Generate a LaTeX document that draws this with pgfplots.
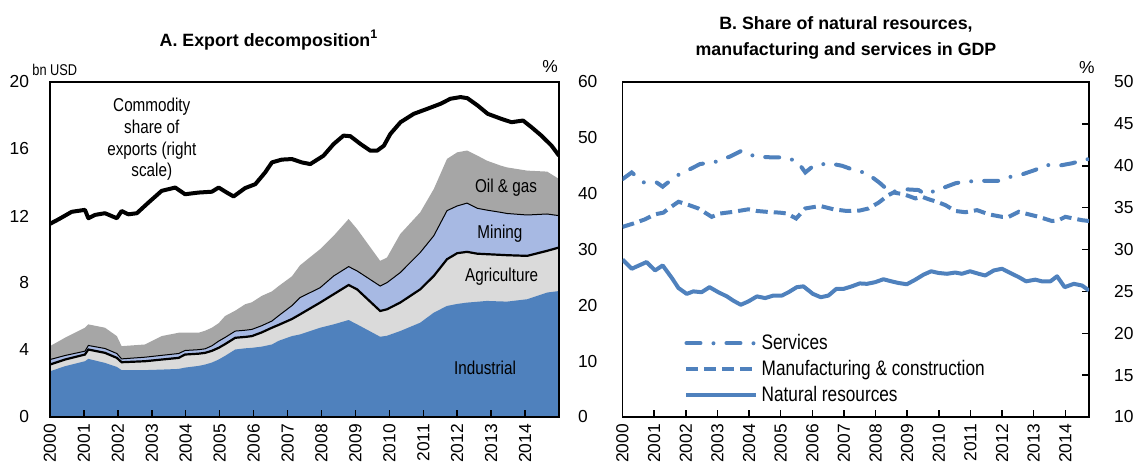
\documentclass[border=0pt]{standalone}
\usepackage{fontspec}
\setmainfont{Liberation Sans}
\newfontfamily\narrow[FakeStretch=0.82]{Liberation Sans}
\usepackage{pgfplots}
\usepackage{pgfplotstable}
\pgfplotsset{compat=1.18}

\definecolor{indblue}{HTML}{4F81BD}
\definecolor{agrgray}{HTML}{DADADA}
\definecolor{minblue}{HTML}{A7B9E3}
\definecolor{oilgray}{HTML}{A6A6A6}

\newcommand\tickfont{\fontsize{8.7}{10}\selectfont}
\newcommand\labfont{\narrow\fontsize{9.3}{10.8}\selectfont}
\newcommand\titlefont{\bfseries\fontsize{8.9}{10.5}\selectfont}

% cumulative tops of the stacked export areas, bn USD
\pgfplotstableread{
x       ind   agr   min   tot
2000.00 2.73  3.13  3.43  4.23
2000.44 3.03  3.43  3.67  4.73
2001.03 3.33  3.73  3.93  5.33
2001.13 3.47  4.03  4.27  5.53
2001.62 3.23  3.83  4.09  5.33
2001.97 2.99  3.53  3.79  4.83
2002.11 2.80  3.27  3.47  4.23
2002.80 2.80  3.33  3.57  4.33
2003.29 2.83  3.43  3.68  4.83
2003.79 2.87  3.53  3.79  5.03
2003.98 2.95  3.73  3.97  5.03
2004.38 3.05  3.78  4.02  5.03
2004.57 3.13  3.83  4.07  5.15
2004.77 3.25  3.95  4.25  5.33
2004.97 3.43  4.13  4.53  5.60
2005.16 3.65  4.35  4.75  6.03
2005.46 4.03  4.73  5.13  6.35
2005.75 4.10  4.78  5.18  6.73
2005.95 4.13  4.83  5.23  6.85
2006.24 4.20  5.05  5.45  7.23
2006.54 4.33  5.33  5.73  7.50
2006.74 4.55  5.50  6.05  7.82
2007.13 4.83  5.85  6.65  8.40
2007.37 4.93  6.13  7.13  9.06
2007.96 5.33  6.83  7.72  10.02
2008.36 5.53  7.33  8.42  10.82
2008.80 5.79  7.88  8.98  11.82
2009.05 5.53  7.62  8.72  11.22
2009.73 4.79  6.33  7.82  9.32
2009.93 4.85  6.43  8.02  9.52
2010.32 5.13  6.83  8.62  10.92
2010.91 5.63  7.62  9.82  12.22
2011.31 6.23  8.42  10.82 13.61
2011.70 6.63  9.42  12.32 15.41
2012.00 6.75  9.78  12.60 15.80
2012.29 6.83  9.86  12.77 15.91
2012.59 6.88  9.75  12.46 15.61
2012.88 6.93  9.72  12.35 15.30
2013.28 6.90  9.68  12.22 15.01
2013.47 6.89  9.66  12.15 14.90
2014.06 7.03  9.62  12.06 14.71
2014.65 7.43  9.92  12.12 14.65
2015.00 7.52  10.12 12.02 14.21
}\exports

% commodity share of exports, %
\pgfplotstableread{
x       y
2000.00 34.6
2000.25 35.4
2000.64 36.75
2001.03 37.1
2001.13 35.6
2001.33 36.2
2001.62 36.5
2001.97 35.6
2002.11 36.9
2002.31 36.3
2002.56 36.5
2002.90 38.4
2003.29 40.5
2003.69 41.1
2003.98 39.9
2004.38 40.2
2004.77 40.35
2004.97 41.1
2005.21 40.2
2005.41 39.5
2005.75 41.0
2006.05 41.7
2006.34 43.8
2006.54 45.6
2006.83 46.1
2007.13 46.2
2007.42 45.6
2007.67 45.3
2008.06 46.8
2008.36 48.9
2008.65 50.4
2008.85 50.3
2009.15 48.9
2009.44 47.7
2009.64 47.7
2009.84 48.6
2010.03 50.7
2010.33 52.8
2010.72 54.3
2011.12 55.2
2011.51 56.1
2011.80 57.0
2012.10 57.3
2012.30 57.1
2012.60 55.8
2012.90 54.3
2013.30 53.4
2013.60 52.8
2013.94 53.1
2014.19 51.9
2014.48 50.4
2014.78 48.6
2015.00 46.8
}\commodity

\pgfplotstableread{
x       y
2000.00 38.4
2000.29 39.2
2000.68 38.0
2001.08 38.0
2001.27 37.5
2001.40 37.9
2001.80 39.0
2002.14 39.6
2002.45 40.2
2002.98 40.5
2003.40 41.1
2003.77 41.8
2004.19 41.1
2004.72 41.0
2005.04 41.0
2005.51 40.6
2005.78 39.2
2006.04 40.0
2006.52 40.3
2006.94 40.0
2007.31 39.5
2007.73 39.1
2008.15 37.9
2008.47 36.8
2008.89 37.2
2009.36 37.1
2009.57 36.6
2010.10 37.3
2010.52 37.9
2010.79 38.1
2011.37 38.2
2011.89 38.2
2012.16 38.6
2012.58 38.9
2013.05 39.5
2013.37 40.1
2013.79 40.0
2014.22 40.3
2014.58 40.7
2014.75 40.8
}\services

\pgfplotstableread{
x       y
2000.00 32.7
2000.34 33.1
2000.71 33.6
2001.03 34.2
2001.29 34.4
2001.50 35.0
2001.77 35.7
2002.03 35.4
2002.40 34.9
2002.61 34.4
2002.82 33.9
2003.09 34.3
2003.51 34.5
2003.98 34.8
2004.25 34.6
2004.56 34.5
2004.98 34.4
2005.20 34.3
2005.49 33.7
2005.78 34.9
2006.25 35.2
2006.67 34.8
2007.09 34.6
2007.50 34.65
2007.78 34.9
2008.10 35.6
2008.41 36.5
2008.57 36.8
2008.89 36.6
2009.26 36.1
2009.47 36.3
2009.68 36.0
2009.94 35.7
2010.21 35.3
2010.52 34.6
2010.84 34.45
2011.21 34.7
2011.58 34.2
2012.00 33.9
2012.21 33.9
2012.53 34.5
2012.84 34.2
2013.16 33.9
2013.58 33.4
2013.79 33.5
2014.00 33.9
2014.27 33.7
2014.53 33.5
2014.75 33.4
}\manuf

\pgfplotstableread{
x       y
2000.00 28.8
2000.29 27.7
2000.76 28.5
2001.03 27.5
2001.27 28.1
2001.56 26.6
2001.77 25.4
2002.03 24.7
2002.24 25.0
2002.50 24.9
2002.75 25.5
2003.03 24.9
2003.30 24.4
2003.50 23.9
2003.74 23.4
2003.98 23.8
2004.25 24.4
2004.51 24.2
2004.77 24.5
2005.04 24.5
2005.25 24.9
2005.51 25.5
2005.72 25.6
2006.02 24.7
2006.27 24.3
2006.51 24.5
2006.76 25.3
2006.99 25.3
2007.25 25.6
2007.50 25.95
2007.73 25.9
2007.99 26.1
2008.25 26.45
2008.50 26.2
2008.73 26.0
2008.99 25.85
2009.26 26.4
2009.52 27.0
2009.76 27.4
2009.99 27.2
2010.26 27.1
2010.52 27.25
2010.73 27.1
2010.99 27.4
2011.26 27.1
2011.47 26.9
2011.74 27.5
2012.00 27.7
2012.26 27.2
2012.53 26.7
2012.76 26.2
2013.05 26.4
2013.26 26.2
2013.53 26.2
2013.74 26.8
2013.98 25.5
2014.27 25.9
2014.53 25.7
2014.75 25.1
}\natres

\pgfplotsset{
  panel/.style={
    scale only axis, height=167.5pt, anchor=south west,
    axis line style={line width=0.75pt},
    tick style={black, line width=0.75pt},
    tick align=inside, major tick length=3.5pt,
    xtick={2000,2001,...,2014}, xtick pos=bottom,
    xticklabel style={rotate=90, anchor=east, font=\tickfont},
    yticklabel style={font=\tickfont},
    /pgf/number format/1000 sep={},
    /pgf/number format/assume math mode=true,
  },
}

\begin{document}
\begin{tikzpicture}
\useasboundingbox (0,0) rectangle (567pt,230.5pt);

% ---------- Panel A ----------
\begin{axis}[panel, at={(25pt,22pt)}, width=254.5pt,
  xmin=2000, xmax=2015, ymin=0, ymax=20,
  ytick={0,4,...,20}, ytick pos=left, ytick style={draw=none},
  yticklabel style={xshift=-7pt}, axis on top]
  \addplot[fill=oilgray, draw=none] table[x=x, y=tot] {\exports} \closedcycle;
  \addplot[fill=minblue, draw=none] table[x=x, y=min] {\exports} \closedcycle;
  \addplot[fill=agrgray, draw=none] table[x=x, y=agr] {\exports} \closedcycle;
  \addplot[fill=indblue, draw=none] table[x=x, y=ind] {\exports} \closedcycle;
  \addplot[black, line width=0.5pt] table[x=x, y=min] {\exports};
  \addplot[black, line width=1.1pt] table[x=x, y=agr] {\exports};
  \node[font=\labfont, align=center] at (axis cs:2003.0,16.57)
    {Commodity\\share of\\exports (right\\scale)};
  \node[font=\labfont] at (axis cs:2013.44,13.67) {Oil \& gas};
  \node[font=\labfont] at (axis cs:2013.26,10.94) {Mining};
  \node[font=\labfont] at (axis cs:2013.31,8.36) {Agriculture};
  \node[font=\labfont] at (axis cs:2012.82,2.93) {Industrial};
\end{axis}
\begin{axis}[scale only axis, at={(25pt,22pt)}, anchor=south west,
  width=254.5pt, height=167.5pt,
  xmin=2000, xmax=2015, ymin=0, ymax=60,
  axis x line=none, axis y line*=right,
  axis line style={line width=0.75pt},
  ytick={0,10,...,60}, ytick style={draw=none},
  yticklabel style={font=\tickfont, xshift=6pt},
  /pgf/number format/assume math mode=true]
  \addplot[black, line width=2pt, line join=round] table {\commodity};
\end{axis}

% ---------- Panel B ----------
\begin{axis}[panel, at={(311.25pt,22pt)}, width=233.25pt,
  xmin=2000, xmax=2014.75, ymin=10, ymax=50,
  ytick={10,15,...,50}, ytick pos=right, yticklabel pos=right,
  yticklabel style={xshift=9pt},
  legend cell align=left,
  legend image code/.code={\draw[#1] (0pt,0pt) -- (35pt,0pt);},
  legend style={at={(0.132,0.258)}, anchor=north west, draw=none, fill=none,
    font=\narrow\fontsize{10.5}{11.5}\selectfont, inner sep=0pt, row sep=0.6pt,
    nodes={inner sep=1.6pt}}]
  \addplot[indblue, line width=2pt, line cap=round,
    dash pattern=on 7pt off 6.5pt on 0pt off 6.5pt] table {\services};
  \addlegendentry{Services}
  \addplot[indblue, line width=2pt, dash pattern=on 6pt off 3pt] table {\manuf};
  \addlegendentry{Manufacturing \& construction}
  \addplot[indblue, line width=2pt, line join=round] table {\natres};
  \addlegendentry{Natural resources}
\end{axis}

% ---------- titles and units ----------
\node[font=\titlefont] at (134.5pt,210.5pt)
  {A. Export decomposition\textsuperscript{1}};
\node[font=\titlefont, align=center] at (423pt,211.5pt)
  {B. Share of natural resources,\\[2.6pt]manufacturing and services in GDP};
\node[font=\narrow\fontsize{7.8}{9}\selectfont, anchor=west, inner sep=0pt]
  at (16pt,195.5pt) {bn USD};
\node[font=\tickfont] at (275pt,197pt) {\%};
\node[font=\tickfont] at (543.4pt,196.5pt) {\%};
\end{tikzpicture}
\end{document}
